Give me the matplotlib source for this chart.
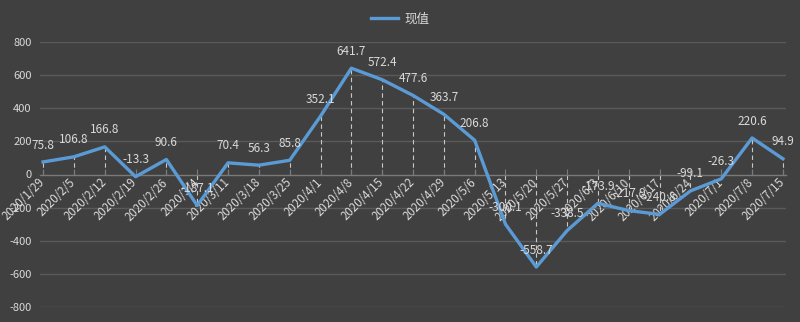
import matplotlib
matplotlib.use("Agg")
import matplotlib.pyplot as plt

plt.rcParams['font.family'] = ['Noto Sans CJK SC', 'DejaVu Sans']

dates = ["2020/1/29", "2020/2/5", "2020/2/12", "2020/2/19", "2020/2/26", "2020/3/4",
         "2020/3/11", "2020/3/18", "2020/3/25", "2020/4/1", "2020/4/8", "2020/4/15",
         "2020/4/22", "2020/4/29", "2020/5/6", "2020/5/13", "2020/5/20", "2020/5/27",
         "2020/6/3", "2020/6/10", "2020/6/17", "2020/6/24", "2020/7/1", "2020/7/8",
         "2020/7/15"]
values = [75.8, 106.8, 166.8, -13.3, 90.6, -187.1, 70.4, 56.3, 85.8, 352.1, 641.7,
          572.4, 477.6, 363.7, 206.8, -300.1, -558.7, -338.5, -173.9, -217.9, -240.8,
          -99.1, -26.3, 220.6, 94.9]
series_name = "现值"
yticks = [-800, -600, -400, -200, 0, 200, 400, 600, 800]

BG = '#404040'
TXT = '#d9d9d9'
BLUE = '#5b9bd5'

fig = plt.figure(figsize=(8, 3.22), dpi=100, facecolor=BG)
ax = fig.add_axes([0.05, 1 - 307 / 322, 0.9325, (307 - 42) / 322])
ax.set_facecolor(BG)

x = list(range(len(values)))
ax.set_xlim(-0.1, len(values) - 1 + 0.1)
ax.set_ylim(-800, 800)

for yv in yticks:
    if yv != 0:
        ax.axhline(yv, color='#5a5a5a', lw=1.0, zorder=0)

# drop lines
ax.vlines(x, 0, values, colors='#c8c8c8', linestyles=(0, (4, 3)), lw=0.8, zorder=1)

line, = ax.plot(x, values, color=BLUE, lw=2.4, zorder=3, label=series_name,
                solid_joinstyle='round')

for xi, v in zip(x, values):
    ax.annotate(f"{v:.1f}", (xi, v), xytext=(0, 7.5), textcoords='offset points',
                ha='center', va='bottom', color=TXT, fontsize=8.5, zorder=4)

for s in ['top', 'right', 'left']:
    ax.spines[s].set_visible(False)
ax.spines['bottom'].set_position(('data', 0))
ax.spines['bottom'].set_color('#7a7a7a')
ax.spines['bottom'].set_linewidth(1.0)

ax.set_xticks(x)
ax.set_xticklabels(dates, rotation=45, ha='right', rotation_mode='default')
for lbl in ax.get_xticklabels():
    lbl.set_x(lbl.get_position()[0])
ax.tick_params(axis='x', colors=TXT, labelsize=8.3, length=4, color='#7a7a7a', pad=1,
               direction='in')
import matplotlib.transforms as mtransforms
offset = mtransforms.ScaledTranslation(3 / 72, 0, fig.dpi_scale_trans)
for lbl in ax.get_xticklabels():
    lbl.set_transform(lbl.get_transform() + offset)
ax.set_yticks(yticks)
ax.set_yticklabels([str(t) for t in yticks])
ax.tick_params(axis='y', colors=TXT, labelsize=8, length=0, pad=6)

fig.legend(handles=[line], loc='center', bbox_to_anchor=(0.5, 1 - 19 / 322),
           frameon=False, labelcolor=TXT, fontsize=9, handlelength=2.2,
           handletextpad=0.5)

fig.savefig('out.png', dpi=100, facecolor=BG)
